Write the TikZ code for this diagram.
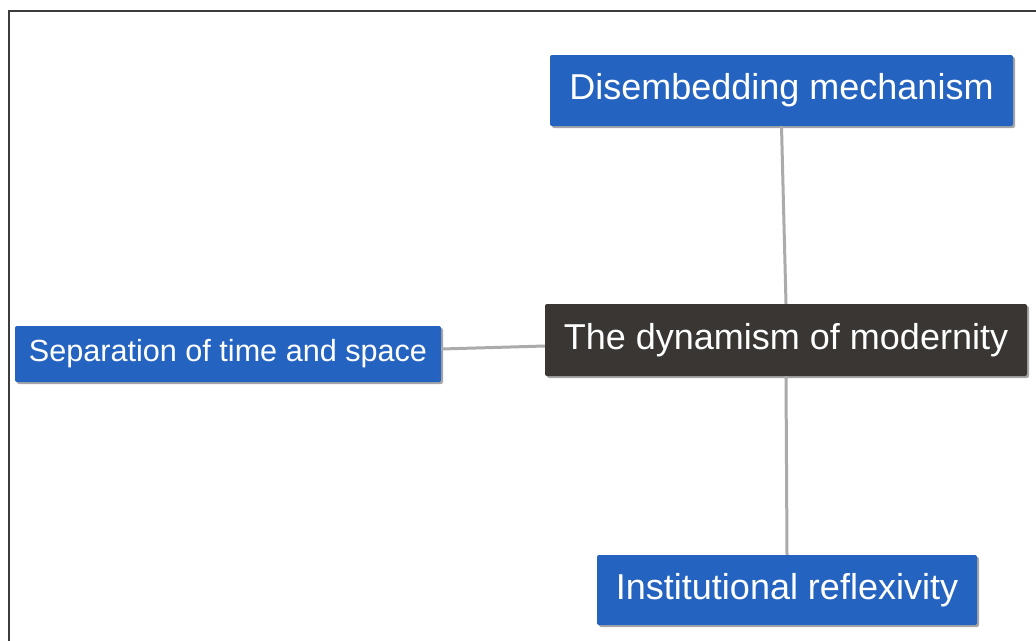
\documentclass[tikz,border=0pt]{standalone}
\usepackage{fontspec}
\setmainfont{Liberation Sans}
\usepackage{tikz}
\usetikzlibrary{shadows}
\definecolor{topicblue}{HTML}{2463BF}
\definecolor{centraldark}{HTML}{3A3634}
\definecolor{linkgray}{HTML}{ABABAB}
\definecolor{framegray}{HTML}{3C3C3C}

\begin{document}
\begin{tikzpicture}[x=1pt,y=-1pt]
\tikzset{topic/.style={fill=topicblue,text=white,rounded corners=2pt,
  inner sep=0pt,align=center,
  drop shadow={shadow xshift=2pt,shadow yshift=-2pt,opacity=0.35,fill=black}}}
\tikzset{central/.style={topic,fill=centraldark}}
\tikzset{link/.style={draw=linkgray,line width=3pt}}
\useasboundingbox (0,0) rectangle (1036,640);
% frame
\draw[framegray,line width=2pt] (8.5,650) -- (8.5,10.5) -- (1050,10.5);
\node[central,minimum width=482pt,minimum height=72pt,font=\fontsize{36}{40}\selectfont]
  (dyn) at (786,340) {The dynamism of modernity};
\node[topic,minimum width=463pt,minimum height=71pt,font=\fontsize{36}{40}\selectfont]
  (dis) at (781.5,90.5) {Disembedding mechanism};
\node[topic,minimum width=426pt,minimum height=56pt,font=\fontsize{30.6}{34}\selectfont]
  (sep) at (228,354) {Separation of time and space};
\node[topic,minimum width=380pt,minimum height=70pt,font=\fontsize{36}{40}\selectfont]
  (inst) at (787,590) {Institutional reflexivity};
% links
\draw[link] (dis.south) -- (dyn.north);
\draw[link] (dyn.south) -- (inst.north);
\draw[link] ([yshift=5pt]sep.east) -- ([yshift=-6pt]dyn.west);
\end{tikzpicture}
\end{document}
